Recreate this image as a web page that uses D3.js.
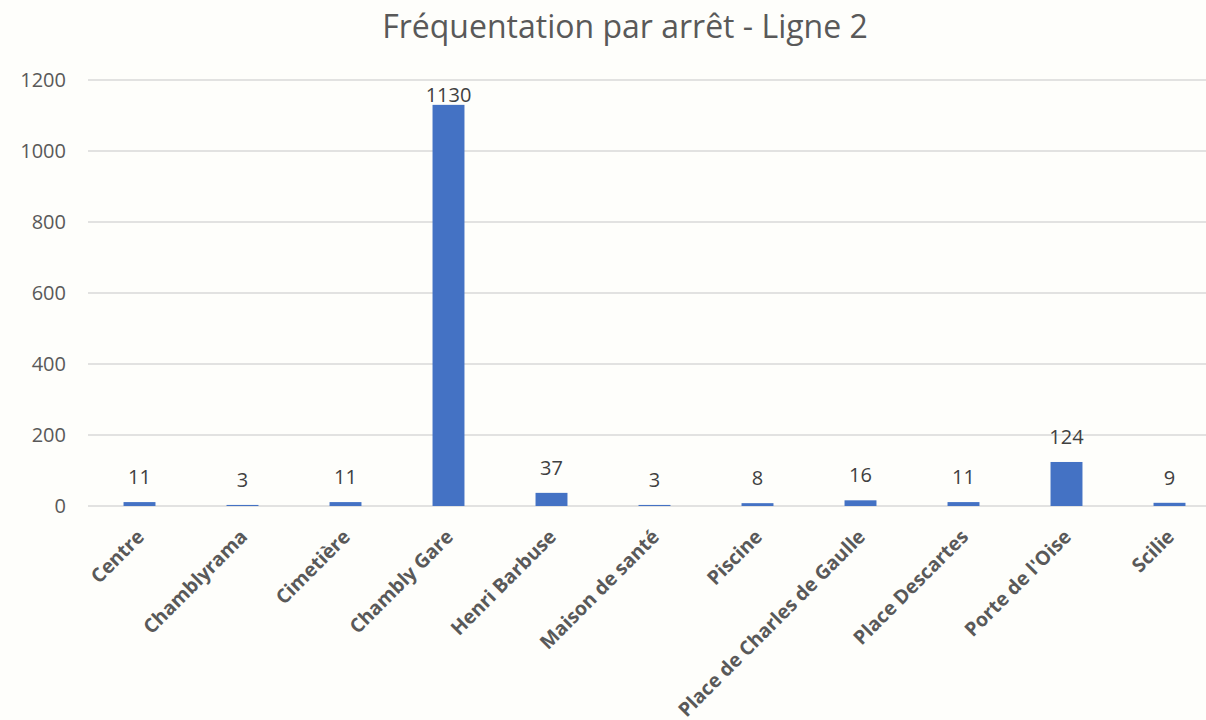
<!DOCTYPE html>
<html>
<head>
<meta charset="utf-8">
<script src="https://d3js.org/d3.v7.min.js"></script>
<style>
  body { margin: 0; background: #fefefb; }
  svg { display: block; }
</style>
</head>
<body>
<script>
// arrêts de la ligne 2 et fréquentation
const stops = ["Centre", "Chamblyrama", "Cimetière", "Chambly Gare", "Henri Barbuse",
  "Maison de santé", "Piscine", "Place de Charles de Gaulle", "Place Descartes",
  "Porte de l'Oise", "Scilie"];
const riders = [11, 3, 11, 1130, 37, 3, 8, 16, 11, 124, 9];
const yTicks = [0, 200, 400, 600, 800, 1000, 1200];

const width = 1206, height = 720;
const margin = { top: 80, bottom: 214, left: 88 };
const font = "'Open Sans', sans-serif";
const textColour = "#595959";

const svg = d3.select("body").append("svg")
  .attr("width", width)
  .attr("height", height);

// the plot area runs a bit past the right edge of the picture
const x = d3.scaleBand()
  .domain(stops)
  .range([margin.left, 1221])
  .paddingInner(0.69)
  .paddingOuter(0.345);

const y = d3.scaleLinear()
  .domain([0, 1200])
  .range([height - margin.bottom, margin.top]);

// title
svg.append("text")
  .attr("x", 625)
  .attr("y", 38)
  .attr("text-anchor", "middle")
  .style("font-family", font)
  .style("font-size", "32px")
  .style("fill", textColour)
  .text("Fréquentation par arrêt - Ligne 2");

// gridlines
svg.append("g")
  .selectAll("line")
  .data(yTicks)
  .join("line")
  .attr("x1", margin.left)
  .attr("x2", width)
  .attr("y1", d => y(d))
  .attr("y2", d => y(d))
  .attr("stroke", "#d9d9d9")
  .attr("stroke-width", 1.5);

// y labels
svg.append("g")
  .selectAll("text")
  .data(yTicks)
  .join("text")
  .attr("x", 66)
  .attr("y", d => y(d))
  .attr("dy", "0.35em")
  .attr("text-anchor", "end")
  .style("font-family", font)
  .style("font-size", "20px")
  .style("fill", textColour)
  .text(d => d);

// bars
svg.append("g")
  .selectAll("rect")
  .data(stops)
  .join("rect")
  .attr("x", d => x(d))
  .attr("width", x.bandwidth())
  .attr("y", (d, i) => y(riders[i]))
  .attr("height", (d, i) => y(0) - y(riders[i]))
  .attr("fill", "#4472c4");

// value labels (kept inside plot area like Excel does)
svg.append("g")
  .selectAll("text")
  .data(stops)
  .join("text")
  .attr("x", d => x(d) + x.bandwidth() / 2)
  .attr("y", (d, i) => Math.max(y(riders[i]) - 18, y(1200) + 22))
  .attr("text-anchor", "middle")
  .style("font-family", font)
  .style("font-size", "20px")
  .style("fill", "#404040")
  .text((d, i) => riders[i]);

// category labels, rotated
svg.append("g")
  .selectAll("text")
  .data(stops)
  .join("text")
  .attr("transform", d => `translate(${x(d) + x.bandwidth() / 2 + 6},${y(0) + 32}) rotate(-45)`)
  .attr("text-anchor", "end")
  .style("font-family", font)
  .style("font-size", "19.5px")
  .style("font-weight", "bold")
  .style("fill", textColour)
  .text(d => d);
</script>
</body>
</html>
